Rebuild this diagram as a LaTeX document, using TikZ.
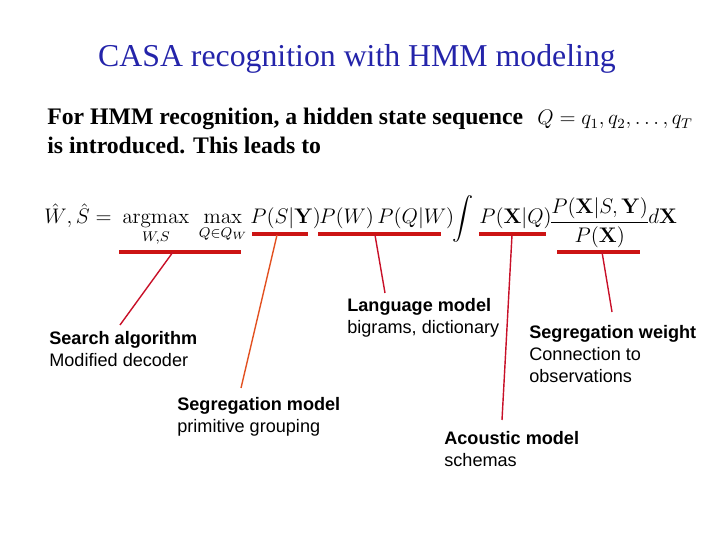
\documentclass[tikz,border=0pt]{standalone}
\usepackage{amsmath}
\usepackage[no-math]{fontspec}
\setmainfont{Liberation Serif}
\newfontfamily\labelfont{Liberation Sans}
\definecolor{titleblue}{RGB}{36,36,170}
\definecolor{ulred}{RGB}{204,20,20}
\definecolor{linkred}{RGB}{200,16,40}
\definecolor{linkorange}{RGB}{226,80,32}
\tikzset{
  uline/.style={draw=ulred, line width=1.8pt},
  link/.style={draw=linkred, line width=0.8pt},
  lbl/.style={anchor=north west, align=left, inner sep=0pt, font={\labelfont\fontsize{10.3}{12.5}\selectfont}},
  eq/.style={anchor=base west, inner sep=0pt, font={\fontsize{12}{14}\selectfont}}
}
\begin{document}
\begin{tikzpicture}[x=0.02cm, y=-0.02cm]
  \useasboundingbox (0,0) rectangle (720,540);
  % title and text
  \node[anchor=base, inner sep=0pt, text=titleblue, font={\fontsize{18.1}{21}\selectfont}] (title) at (357,67) {CASA recognition with HMM modeling};
  \node[anchor=base west, inner sep=0pt, font={\bfseries\fontsize{13.5}{16.5}\selectfont}] (intro1) at (47,125) {For HMM recognition, a hidden state sequence};
  \node[anchor=base west, inner sep=0pt, font={\bfseries\fontsize{13.5}{16.5}\selectfont}] (intro2) at (47,154) {is introduced. This leads to};
  \node[eq] (qseq) at (537,125) {$Q = q_1, q_2, \ldots, q_T$};
  % equation pieces
  \node[eq] (lhs) at (44,224) {$\hat{W}, \hat{S} =$};
  \node[eq] (argm) at (122,224) {$\displaystyle\operatorname*{argmax}_{W,S}\;\max_{Q\in Q_W}$};
  \node[eq] (psy) at (250,224) {$P(S|\mathbf{Y})$};
  \node[eq] (pwq) at (319,224) {$P(W)\,P(Q|W)$};
  \node[eq] (intg) at (452,224) {$\displaystyle\int$};
  \node[eq] (pxq) at (479,224) {$P(\mathbf{X}|Q)$};
  \node[eq] (frac) at (549,228) {$\displaystyle\frac{P(\mathbf{X}|S,\mathbf{Y})}{P(\mathbf{X})}$};
  \node[eq] (dx) at (648,224) {$d\mathbf{X}$};
  % underlines
  \draw[uline] (119,252) -- (241,252);
  \draw[uline] (252,234) -- (308,234);
  \draw[uline] (318,234) -- (441,234);
  \draw[uline] (479,234) -- (546,234);
  \draw[uline] (557,252) -- (640,252);
  \coordinate (u1) at (173,252);
  \coordinate (u2) at (277,235);
  \coordinate (u3) at (375,235);
  \coordinate (u4) at (512,235);
  \coordinate (u5) at (602,252);
  % labels
  \node[lbl] (search) at (49,331) {\textbf{Search algorithm}\\Modified decoder};
  \node[lbl] (segmod) at (177,397) {\textbf{Segregation model}\\primitive grouping};
  \node[lbl] (langmod) at (347,298) {\textbf{Language model}\\bigrams, dictionary};
  \node[lbl] (segw) at (529,325) {\textbf{Segregation weight}\\Connection to\\observations};
  \node[lbl] (acmod) at (444,431) {\textbf{Acoustic model}\\schemas};
  \coordinate (e1) at (120,325);
  \coordinate (e2) at (241,388);
  \coordinate (e3) at (385,293);
  \coordinate (e4) at (502,420);
  \coordinate (e5) at (612,312);
  % connectors
  \draw[link] (u1) -- (e1);
  \draw[link, draw=linkorange] (u2) -- (e2);
  \draw[link] (u3) -- (e3);
  \draw[link] (u4) -- (e4);
  \draw[link] (u5) -- (e5);
\end{tikzpicture}
\end{document}
